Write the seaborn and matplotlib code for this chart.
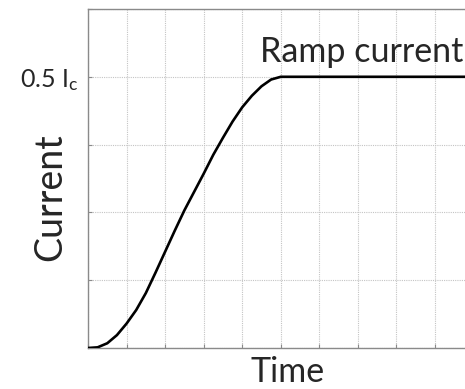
import matplotlib
matplotlib.use("Agg")
import matplotlib.pyplot as plt
import seaborn as sns
import pandas as pd

# data (time in grid units, current in units of I_c)
time = [0, 0.25, 0.5, 0.75, 1.0, 1.25, 1.5, 1.75, 2.0, 2.25, 2.5, 2.75, 3.0, 3.25,
        3.5, 3.75, 4.0, 4.25, 4.5, 4.75, 5.0, 10.0]
current_level = [0, 0.01, 0.07, 0.19, 0.36, 0.56, 0.81, 1.11, 1.42, 1.73, 2.03, 2.30,
                 2.57, 2.85, 3.10, 3.34, 3.55, 3.72, 3.86, 3.96, 4.0, 4.0]
current = [v * 0.125 for v in current_level]
x_ticks = [0, 1, 2, 3, 4, 5, 6, 7, 8, 9, 10]
y_ticks = [0, 0.125, 0.25, 0.375, 0.5, 0.625]
y_tick_labels = ["", "", "", "", "0.5 I$_\\mathregular{c}$", ""]
annotation = "Ramp current"
x_label = "Time"
y_label = "Current"

sns.set_style("white")
FONT = "Lato"
plt.rcParams["font.family"] = [FONT, "DejaVu Sans"]
plt.rcParams["mathtext.fontset"] = "custom"
plt.rcParams["mathtext.rm"] = FONT
plt.rcParams["mathtext.it"] = FONT

W, H = 465, 389
fig = plt.figure(figsize=(W / 100, H / 100), dpi=100)
left, right, top, bottom = 88, 473.5, 9, 348
ax = fig.add_axes([left / W, (H - bottom) / H, (right - left) / W, (bottom - top) / H])

df = pd.DataFrame({"time": time, "current": current})
sns.lineplot(data=df, x="time", y="current", ax=ax, color="black", linewidth=1.9, zorder=3)

ax.set_xlim(0, 10)
ax.set_ylim(0, 0.625)
ax.set_xticks(x_ticks)
ax.set_yticks(y_ticks)
ax.set_xticklabels([""] * len(x_ticks))
ax.set_yticklabels(y_tick_labels, fontsize=18)
ax.grid(True, color="#c4c4c4", linestyle=(0, (1, 1)), linewidth=0.8)
ax.tick_params(axis="both", direction="in", length=3, width=0.8, color="#8a8a8a", pad=7,
               bottom=True, left=True)
for s in ax.spines.values():
    s.set_color("#8a8a8a")
    s.set_linewidth(1.0)
ax.set_xlabel("")
ax.set_ylabel("")

fig.text(362 / W, 1 - 62 / H, annotation, fontsize=24.5, ha="center", va="baseline")
fig.text(288 / W, 1 - 382 / H, x_label, fontsize=24.5, ha="center", va="baseline")
fig.text(50 / W, 1 - 197 / H, y_label, fontsize=27, ha="center", va="center", rotation=90)

fig.savefig("out.png", dpi=100)
